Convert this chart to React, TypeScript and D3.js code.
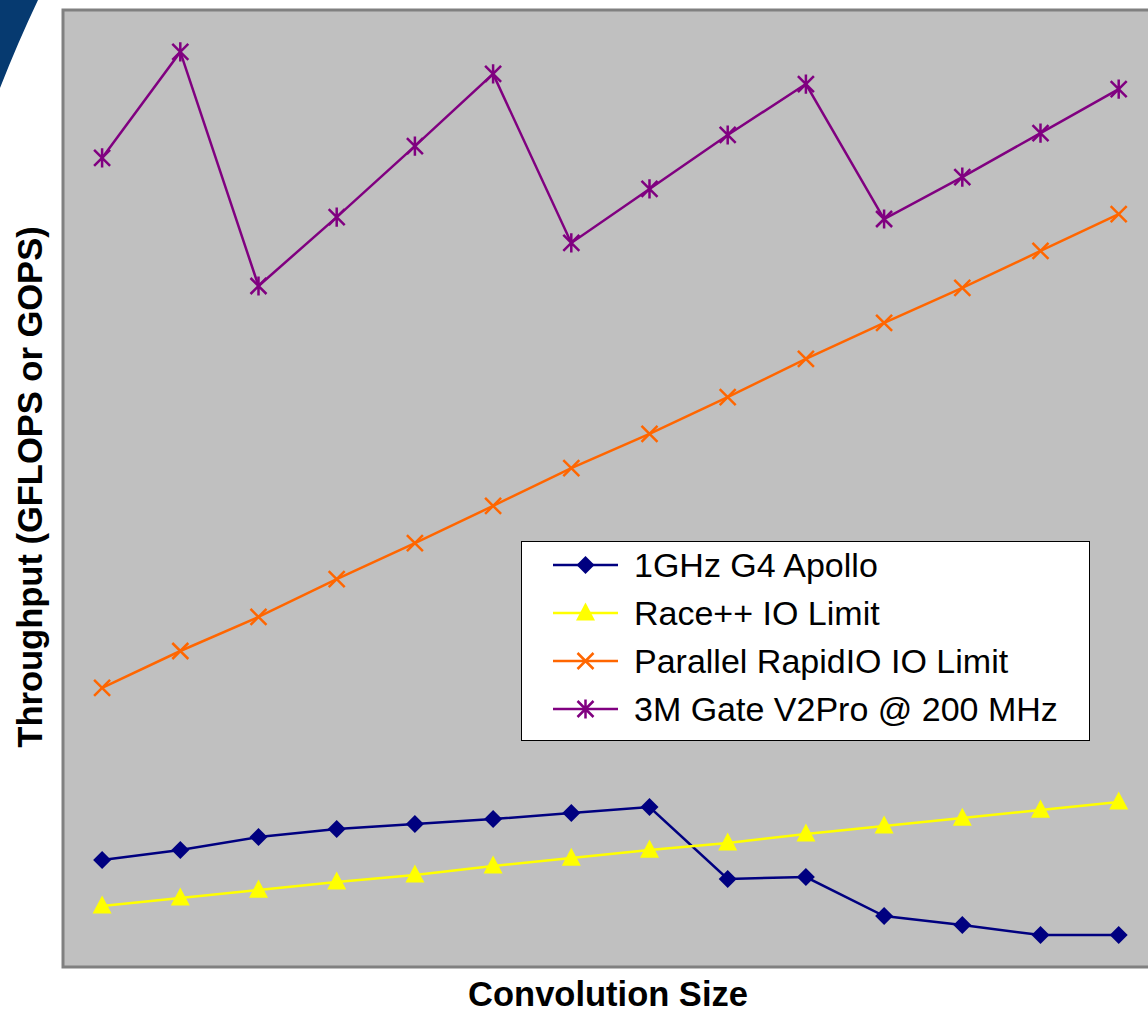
import React, { useEffect, useRef } from "react";
import * as d3 from "d3";

const categories = ["1", "2", "3", "4", "5", "6", "7", "8", "9", "10", "11", "12", "13", "14"];
const apollo = [5.59, 6.11, 6.79, 7.21, 7.47, 7.73, 8.05, 8.36, 4.6, 4.7, 2.66, 2.19, 1.67, 1.67];
const racepp = [3.19, 3.61, 4.02, 4.44, 4.81, 5.28, 5.69, 6.11, 6.48, 6.95, 7.37, 7.78, 8.2, 8.62];
const rapidio = [14.58, 16.51, 18.29, 20.27, 22.15, 24.09, 26.07, 27.85, 29.78, 31.77, 33.65, 35.48, 37.41, 39.34];
const v2pro = [42.27, 47.81, 35.58, 39.18, 42.89, 46.66, 37.83, 40.65, 43.47, 46.13, 39.08, 41.27, 43.57, 45.87];

const seriesNames = ["1GHz G4 Apollo", "Race++ IO Limit", "Parallel RapidIO IO Limit", "3M Gate V2Pro @ 200 MHz"];
const seriesColors = ["#000080", "#FFFF00", "#FF6600", "#800080"];
const seriesMarkers = ["diamond", "triangle", "x", "asterisk"];
const yDomain = [0, 50];

function markerPath(type: string, s: number): string {
  switch (type) {
    case "diamond":
      return `M0,${-s}L${s},0L0,${s}L${-s},0Z`;
    case "triangle":
      return `M0,${-s * 1.1}L${s},${s * 0.8}L${-s},${s * 0.8}Z`;
    case "x":
      return `M${-s},${-s}L${s},${s}M${-s},${s}L${s},${-s}`;
    default:
      return `M${-s},${-s}L${s},${s}M${-s},${s}L${s},${-s}M0,${-s * 1.2}L0,${s * 1.2}`;
  }
}

const FONT = "'Liberation Sans', Arial, sans-serif";

export default function App() {
  const ref = useRef<SVGSVGElement | null>(null);

  useEffect(() => {
    const svg = d3.select(ref.current);
    svg.selectAll("*").remove();
    const left = 63, top = 10, bottom = 967;
    const band = 78.2;
    const right = left + band * categories.length;

    // decorative swoosh
    svg.append("path")
      .attr("d", "M0,0 L38,0 Q18,42 0,88 Z")
      .attr("fill", "#063a70");

    const x = d3.scaleBand().domain(categories).range([left, right]).paddingInner(0).paddingOuter(0);
    const y = d3.scaleLinear().domain(yDomain).range([bottom, top]);

    svg.append("rect")
      .attr("x", left).attr("y", top)
      .attr("width", right - left + 20).attr("height", bottom - top)
      .attr("fill", "#C0C0C0")
      .attr("stroke", "#808080").attr("stroke-width", 3);

    const all = [apollo, racepp, rapidio, v2pro];
    const cx = (c: string) => (x(c) as number) + x.bandwidth() / 2;

    all.forEach((vals, i) => {
      const data = categories.map((c, j) => ({ c, v: vals[j] }));
      const line = d3.line<{ c: string; v: number }>().x(d => cx(d.c)).y(d => y(d.v));
      svg.append("path").datum(data).attr("d", line)
        .attr("fill", "none").attr("stroke", seriesColors[i]).attr("stroke-width", 2.5);
      const mk = seriesMarkers[i];
      const filled = mk === "diamond" || mk === "triangle";
      const size = mk === "diamond" ? 9 : mk === "triangle" ? 9.5 : 8;
      svg.append("g").selectAll("path").data(data).join("path")
        .attr("transform", d => `translate(${cx(d.c)},${y(d.v)})`)
        .attr("d", markerPath(mk, size))
        .attr("fill", filled ? seriesColors[i] : "none")
        .attr("stroke", seriesColors[i])
        .attr("stroke-width", filled ? 0 : 2.5);
    });

    // legend
    const lg = svg.append("g");
    lg.append("rect").attr("x", 521.5).attr("y", 541.5).attr("width", 568).attr("height", 199)
      .attr("fill", "#FFFFFF").attr("stroke", "#000000").attr("stroke-width", 1);
    const rowY = [565, 613, 661, 709];
    seriesNames.forEach((n, i) => {
      lg.append("line").attr("x1", 553).attr("x2", 618).attr("y1", rowY[i]).attr("y2", rowY[i])
        .attr("stroke", seriesColors[i]).attr("stroke-width", 2.5);
      const mk = seriesMarkers[i];
      const filled = mk === "diamond" || mk === "triangle";
      const size = mk === "diamond" ? 9 : mk === "triangle" ? 9.5 : 8;
      lg.append("path").attr("transform", `translate(585.5,${rowY[i]})`)
        .attr("d", markerPath(mk, size))
        .attr("fill", filled ? seriesColors[i] : "none")
        .attr("stroke", seriesColors[i]).attr("stroke-width", filled ? 0 : 2.5);
      lg.append("text").attr("x", 634).attr("y", rowY[i]).attr("dy", "0.36em")
        .attr("font-family", FONT).attr("font-size", 34)
        .attr("fill", "#000").text(n);
    });

    svg.append("text")
      .attr("transform", `translate(42,487) rotate(-90)`)
      .attr("text-anchor", "middle")
      .attr("font-family", FONT).attr("font-weight", "bold")
      .attr("font-size", 34.5).attr("fill", "#000").text("Throughput (GFLOPS or GOPS)");

    svg.append("text")
      .attr("x", 608).attr("y", 1006)
      .attr("text-anchor", "middle")
      .attr("font-family", FONT).attr("font-weight", "bold")
      .attr("font-size", 34.5).attr("fill", "#000").text("Convolution Size");
  }, []);

  return (
    <svg ref={ref} width={1148} height={1010}
      style={{ position: "absolute", left: 0, top: 0, display: "block", background: "#fff" }} />
  );
}
